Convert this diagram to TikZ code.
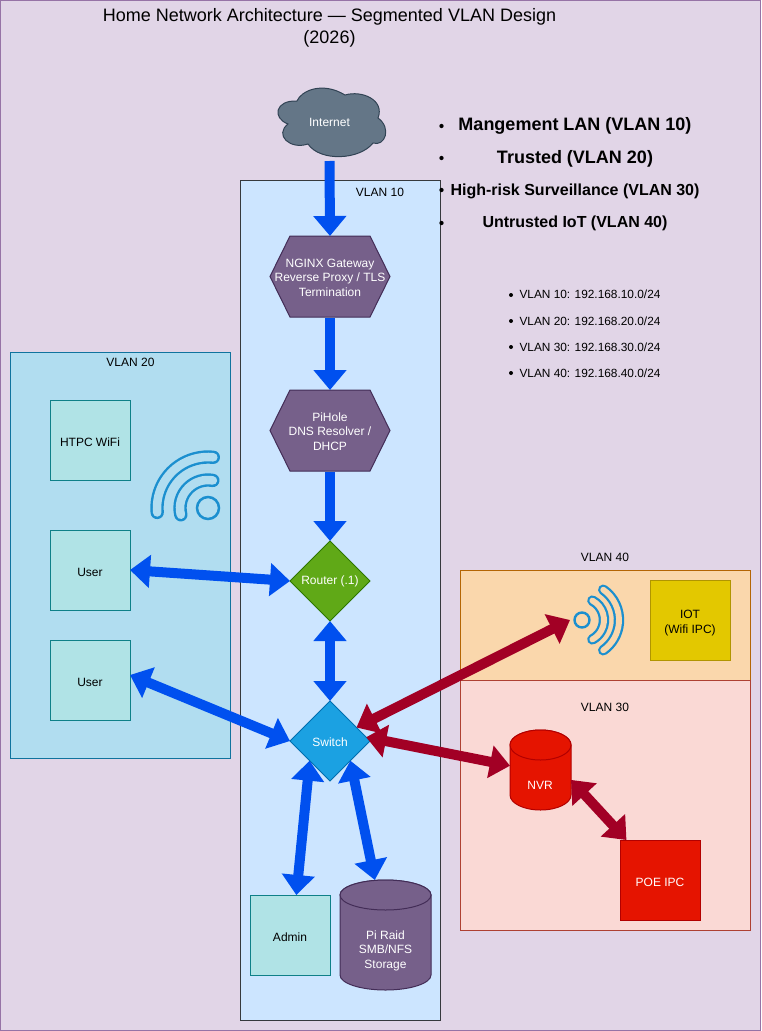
\documentclass[tikz,border=0pt]{standalone}
\usepackage{fontspec}
\setmainfont{Liberation Sans}
\usetikzlibrary{shapes.geometric,arrows.meta,calc}
\definecolor{bgc}{HTML}{E1D5E7}\definecolor{bgl}{HTML}{9673A6}
\definecolor{vtenf}{HTML}{CCE5FF}\definecolor{vtenl}{HTML}{36393D}
\definecolor{vtwof}{HTML}{B1DDF0}\definecolor{vtwol}{HTML}{10739E}
\definecolor{vfourf}{HTML}{FAD7AC}\definecolor{vfourl}{HTML}{B46504}
\definecolor{vthrf}{HTML}{FAD9D5}\definecolor{vthrl}{HTML}{AE4132}
\definecolor{tealf}{HTML}{B0E3E6}\definecolor{teall}{HTML}{0E8088}
\definecolor{purf}{HTML}{76608A}\definecolor{purl}{HTML}{432D57}
\definecolor{grnf}{HTML}{60A917}\definecolor{grnl}{HTML}{2D7600}
\definecolor{swf}{HTML}{1BA1E2}\definecolor{swl}{HTML}{006EAF}
\definecolor{yelf}{HTML}{E3C800}\definecolor{yell}{HTML}{B09500}
\definecolor{redf}{HTML}{E51400}\definecolor{redl}{HTML}{B20000}
\definecolor{cldf}{HTML}{647687}\definecolor{cldl}{HTML}{314354}
\definecolor{arrb}{HTML}{0050EF}\definecolor{arrr}{HTML}{A20025}
\definecolor{wifil}{HTML}{1B8FCF}
\tikzset{
  x=0.75pt,y=-0.75pt,
  base/.style={inner sep=0pt,outer sep=0pt,font=\fontsize{9}{10.875}\selectfont,align=center},
  lowered/.style={base,execute at begin node={\rule{0pt}{1.1em}}},
  zone/.style={base,draw,line width=0.75pt,anchor=north west},
  tealbox/.style={lowered,draw=teall,fill=tealf,line width=0.75pt,minimum width=60pt,minimum height=60pt},
  ghost/.style={base,text=white,minimum width=90pt,minimum height=60.75pt},
  dia/.style={base,diamond,aspect=1,line width=0.75pt,minimum width=60pt,minimum height=60pt,text=white},
  lab/.style={base},
  bluearrow/.style={draw=arrb,line width=7.5pt,-{Triangle[length=15pt,width=24pt,fill=arrb]}},
  bluedouble/.style={draw=arrb,line width=7.5pt,{Triangle[length=15pt,width=24pt,fill=arrb]}-{Triangle[length=15pt,width=24pt,fill=arrb]}},
  reddouble/.style={draw=arrr,line width=7.5pt,{Triangle[length=15pt,width=24pt,fill=arrr]}-{Triangle[length=15pt,width=24pt,fill=arrr]}},
  hexa/.style={fill=purf,draw=purl,line width=0.75pt},
  cyl/.style={line width=0.75pt},
  bigitem/.style={base,font=\fontsize{13.5}{16}\selectfont\bfseries},
  miditem/.style={base,font=\fontsize{12}{14}\selectfont\bfseries},
  smallitem/.style={base,anchor=west,font=\fontsize{8.9}{10.5}\selectfont},
  dot/.style={circle,fill=black,inner sep=0pt,minimum size=3.2pt},
}
\begin{document}
\begin{tikzpicture}
\useasboundingbox (0,0) rectangle (761,1031);
\fill[bgc] (0,0) rectangle (761,1031);
\draw[bgl,line width=0.75pt] (0.5,0.5) rectangle (760.5,1030.5);

% zones
\node[zone,draw=vtenl,fill=vtenf,minimum width=150pt,minimum height=630pt] (z10) at (240,180) {};
\node[zone,draw=vtwol,fill=vtwof,minimum width=165pt,minimum height=304.5pt] (z20) at (10,352) {};
\node[zone,draw=vfourl,fill=vfourf,minimum width=217.5pt,minimum height=82.5pt] (z40) at (460,570) {};
\node[zone,draw=vthrl,fill=vthrf,minimum width=217.5pt,minimum height=187.5pt] (z30) at (460,680) {};
\node[lab] (l10) at (380,192) {VLAN 10};
\node[lab] (l20) at (130.5,362) {VLAN 20};
\node[lab] (l40) at (605,557) {VLAN 40};
\node[lab] (l30) at (605,707) {VLAN 30};

% title
\node[lowered,font=\fontsize{13.5}{16.5}\selectfont] (title) at (329.5,27.5) {Home Network Architecture — Segmented VLAN Design\\(2026)};

% lists
\node[dot] (d1) at (441.5,126) {}; \node[bigitem] (t1) at (575,126) {Mangement LAN (VLAN 10)};
\node[dot] (d2) at (441.5,158) {}; \node[bigitem] (t2) at (575,158.5) {Trusted (VLAN 20)};
\node[dot] (d3) at (441.5,190) {}; \node[miditem] (t3) at (575,191) {High-risk Surveillance (VLAN 30)};
\node[dot] (d4) at (441.5,223) {}; \node[miditem] (t4) at (575,223.5) {Untrusted IoT (VLAN 40)};
\node[dot,minimum size=3pt] (e1) at (511,295) {}; \node[smallitem] (s1) at (519.5,294) {VLAN 10: 192.168.10.0/24};
\node[dot,minimum size=3pt] (e2) at (511,321) {}; \node[smallitem] (s2) at (519.5,321) {VLAN 20: 192.168.20.0/24};
\node[dot,minimum size=3pt] (e3) at (511,347) {}; \node[smallitem] (s3) at (519.5,347) {VLAN 30: 192.168.30.0/24};
\node[dot,minimum size=3pt] (e4) at (511,373) {}; \node[smallitem] (s4) at (519.5,373) {VLAN 40: 192.168.40.0/24};

% cloud
\draw[fill=cldf,draw=cldl,line width=0.75pt]
  (297,101) .. controls (301,91) and (322,81) .. (345,95)
  .. controls (362,90) and (385,100) .. (378,118)
  .. controls (392,128) and (385,147) .. (373,143)
  .. controls (360,160) and (320,162) .. (308,144)
  .. controls (290,150) and (274,135) .. (288,124)
  .. controls (272,118) and (275,100) .. (297,101) -- cycle;
\node[base,text=white,minimum width=75pt,minimum height=58.5pt] (inet) at (329.5,122) {Internet};

% hexagons
\draw[hexa] (270,276.5) -- (290,236) -- (370,236) -- (390,276.5) -- (370,317) -- (290,317) -- cycle;
\node[ghost] (nginx) at (330,277.5) {NGINX Gateway\\Reverse Proxy / TLS\\Termination};
\draw[hexa] (270,430.5) -- (290,390) -- (370,390) -- (390,430.5) -- (370,471) -- (290,471) -- cycle;
\node[ghost] (pihole) at (330,431.5) {PiHole\\DNS Resolver /\\DHCP};

% devices
\node[tealbox] (htpc) at (90,440) {HTPC WiFi};
\node[tealbox] (u1) at (90,570) {User};
\node[tealbox] (u2) at (90,680) {User};
\node[tealbox] (admin) at (290,935) {Admin};
\node[dia,draw=grnl,fill=grnf] (router) at (330,581) {Router (.1)};
\node[dia,draw=swl,fill=swf] (switch) at (330,741) {\rule{0pt}{0.9em}Switch};
\node[base,draw=yell,fill=yelf,line width=0.75pt,minimum width=60pt,minimum height=60pt] (iot) at (690,620) {};
\node[base] (iottext) at (690,623) {IOT\\(Wifi IPC)};
\node[lowered,draw=redl,fill=redf,line width=0.75pt,minimum width=60pt,minimum height=60pt,text=white] (poe) at (660,880) {POE IPC};

% cylinders
\draw[cyl,fill=purf,draw=purl] (340,895) arc[start angle=180,end angle=360,x radius=45.5,y radius=15] -- (431,975) arc[start angle=0,end angle=180,x radius=45.5,y radius=15] -- cycle;
\draw[cyl,fill=purf,draw=purl] (340,895) arc[start angle=180,end angle=-180,x radius=45.5,y radius=15];
\node[base,minimum width=68.25pt,minimum height=82.5pt] (raid) at (385.5,935) {};
\node[base,text=white] (raidtext) at (385.5,950.5) {Pi Raid\\SMB/NFS\\Storage};
\draw[cyl,fill=redf,draw=redl] (510,745) arc[start angle=180,end angle=360,x radius=30.5,y radius=15] -- (571,795) arc[start angle=0,end angle=180,x radius=30.5,y radius=15] -- cycle;
\draw[cyl,fill=redf,draw=redl] (510,745) arc[start angle=180,end angle=-180,x radius=30.5,y radius=15];
\node[base,minimum width=45.75pt,minimum height=60.75pt] (nvr) at (540.5,770) {};
\node[base,text=white] (nvrtext) at (540,785) {NVR};

% wifi icon VLAN 20
\begin{scope}[line cap=round,fill=none]
  \coordinate (w20) at (208,508);
  \draw[wifil,line width=1.9pt] (w20) circle[radius=11];
  \foreach \r/\a/\b/\c in {28/166/280/vtwof,51/175/276/vtwof}{
    \draw[wifil,line width=10pt] ($(w20)+(\a:\r)$) arc[start angle=\a,end angle=\b,radius=\r];
    \draw[\c,line width=6.4pt] ($(w20)+(\a:\r)$) arc[start angle=\a,end angle=\b,radius=\r];
  }
\end{scope}

% wifi icon VLAN 40
\begin{scope}[line cap=round,fill=none]
  \coordinate (w40) at (582,620);
  \coordinate (w40tip) at (570,620);
  \draw[wifil,line width=1.8pt] (w40) circle[radius=7.5];
  \foreach \r/\a/\b/\c in {22/-62/62/vfourf,37/-55/55/vfourf}{
    \draw[wifil,line width=7.8pt] ($(w40)+(\a:\r)$) arc[start angle=\a,end angle=\b,radius=\r];
    \draw[\c,line width=4.4pt] ($(w40)+(\a:\r)$) arc[start angle=\a,end angle=\b,radius=\r];
  }
\end{scope}

% connectors
\draw[bluearrow] (inet.south) -- ($(nginx.north)+(0,-1)$);
\draw[bluearrow] (nginx.south) -- ($(pihole.north)+(0,-1)$);
\draw[bluearrow] (pihole.south) -- (router.north);
\draw[bluedouble] (u1.east) -- (router.west);
\draw[bluedouble] (router.south) -- (switch.north);
\draw[bluedouble] ($(u2.east)+(0,-5)$) -- (switch.west);
\draw[bluedouble] (switch.224) -- (admin.81);
\draw[bluedouble] (switch.-44) -- (raid.101);
\draw[reddouble] (switch.27) -- (w40tip);
\draw[reddouble] (switch.6) -- (nvr.172);
\draw[reddouble] (nvr.-18) -- (poe.130);
\end{tikzpicture}
\end{document}
